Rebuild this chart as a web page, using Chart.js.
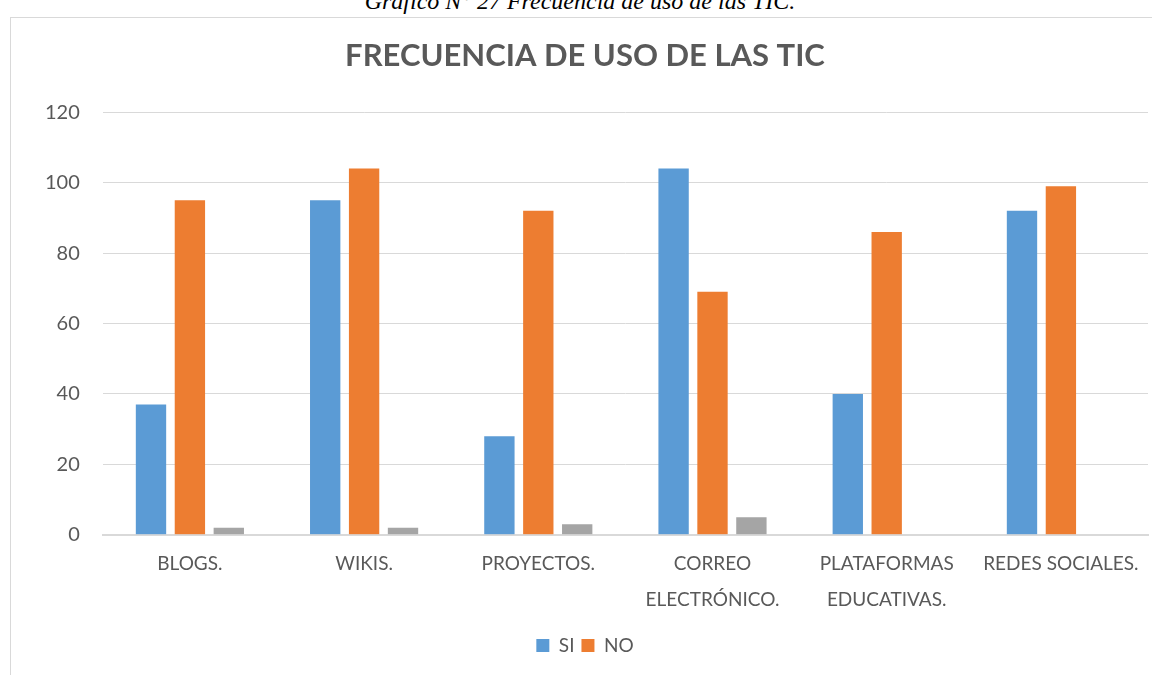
<!DOCTYPE html>
<html>
<head>
<meta charset="utf-8">
<script src="https://cdn.jsdelivr.net/npm/chart.js@4.4.0/dist/chart.umd.min.js"></script>
<style>
  html, body { margin: 0; padding: 0; background: #fff; }
  body { width: 1152px; height: 675px; position: relative; overflow: hidden; }
  #caption { position: absolute; top: -12px; left: 0; width: 1160px; text-align: center;
    font-family: "Liberation Serif", serif; font-style: italic; font-size: 24px; color: #000; }
  #box { position: absolute; left: 10px; top: 17px; width: 1160px; height: 700px; border: 1px solid #d9d9d9; }
  #wrap { position: absolute; left: 11px; top: 18px; width: 1141px; height: 657px; }
</style>
</head>
<body>
<div id="caption">Gráfico N° 27 Frecuencia de uso de las TIC.</div>
<div id="box"></div>
<div id="wrap"><canvas id="ticChart"></canvas></div>
<script>
const categories = ['BLOGS.', 'WIKIS.', 'PROYECTOS.', ['CORREO', 'ELECTRÓNICO.'], ['PLATAFORMAS', 'EDUCATIVAS.'], 'REDES SOCIALES.'];
const siValues = [37, 95, 28, 104, 40, 92];
const noValues = [95, 104, 92, 69, 86, 99];
const otherValues = [2, 2, 3, 5, 0, 0];
const yTicks = [0, 20, 40, 60, 80, 100, 120];

const fontFace = 'Lato, "Open Sans", sans-serif';

const ticCtx = document.getElementById('ticChart').getContext('2d');
const ticChart = new Chart(ticCtx, {
    type: 'bar',
    data: {
        labels: categories,
        datasets: [{
            label: 'SI',
            data: siValues,
            backgroundColor: '#5b9bd5'
        }, {
            label: 'NO',
            data: noValues,
            backgroundColor: '#ed7d31'
        }, {
            label: '',
            data: otherValues,
            backgroundColor: '#a5a5a5'
        }]
    },
    options: {
        responsive: true,
        maintainAspectRatio: false,
        animation: false,
        layout: { padding: { left: 11, right: 4, top: 0, bottom: 10 } },
        datasets: {
            bar: { categoryPercentage: 0.67, barPercentage: 0.78 }
        },
        plugins: {
            title: {
                display: true,
                text: 'FRECUENCIA DE USO DE LAS TIC',
                color: '#595959',
                font: { family: fontFace, size: 31, weight: 'bold' },
                padding: { top: 19, bottom: 38 }
            },
            legend: {
                position: 'bottom',
                labels: {
                    filter: item => item.text !== '',
                    color: '#595959',
                    font: { family: fontFace, size: 19 },
                    boxWidth: 13,
                    boxHeight: 13,
                    padding: 7
                }
            },
            tooltip: { enabled: false }
        },
        scales: {
            x: {
                grid: { display: false, drawTicks: false },
                border: { color: '#d9d9d9', width: 2 },
                ticks: {
                    color: '#595959',
                    font: { family: fontFace, size: 19, lineHeight: 1.9 },
                    padding: 11,
                    maxRotation: 0,
                    autoSkip: false
                }
            },
            y: {
                min: 0,
                max: 120,
                afterBuildTicks: axis => { axis.ticks = yTicks.map(v => ({ value: v })); },
                grid: { color: '#d9d9d9', drawTicks: false },
                border: { display: false },
                ticks: {
                    color: '#595959',
                    font: { family: fontFace, size: 20 },
                    padding: 23
                }
            }
        }
    }
});
</script>
</body>
</html>
